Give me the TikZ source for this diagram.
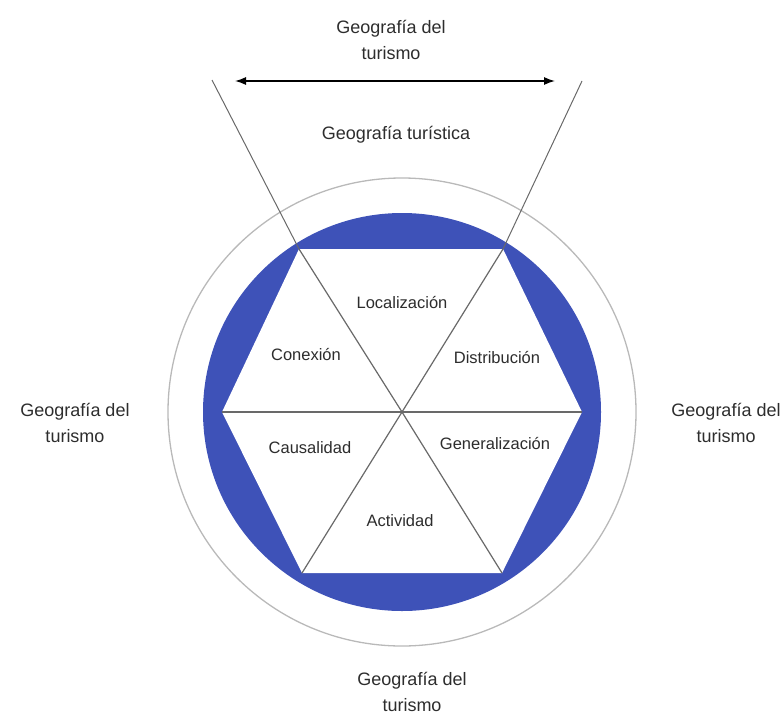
\documentclass[tikz,border=0pt]{standalone}
\usepackage{fontspec}
\setmainfont{Liberation Sans}
\usetikzlibrary{arrows.meta}
\definecolor{ringblue}{RGB}{62,82,184}
\definecolor{spokegray}{RGB}{105,105,105}
\definecolor{labelgray}{RGB}{45,45,45}
\tikzset{
  outlabel/.style={align=center, text=labelgray, font=\fontsize{18}{26}\selectfont},
  inlabel/.style={text=labelgray, font=\fontsize{16.5}{20}\selectfont},
  spoke/.style={draw=spokegray, line width=1.2pt}
}

\begin{document}
\begin{tikzpicture}[x=1pt,y=-1pt]
\useasboundingbox (0,0) rectangle (783,717);
\coordinate (c) at (402,412);
\coordinate (L) at (222,412);
\coordinate (TL) at (299,249);
\coordinate (TR) at (503,249);
\coordinate (R) at (582,412);
\coordinate (BR) at (502,573);
\coordinate (BL) at (302,573);
\coordinate (tlout) at (212,80);
\coordinate (trout) at (582,81);
\coordinate (al) at (235,81);
\coordinate (ar) at (555,81);

\draw[gray!55, line width=1.3pt] (c) circle[radius=234];
\fill[ringblue] (c) circle[radius=199];
\fill[white] (L) -- (TL) -- (TR) -- (R) -- (BR) -- (BL) -- cycle;
\foreach \v in {TL,TR,BR,BL}
  \draw[spoke] (c) -- (\v);
\draw[spoke] (L) -- (R);
\draw[spoke, line width=1pt] (TL) -- (tlout);
\draw[spoke, line width=1pt] (TR) -- (trout);
\draw[line width=1.3pt, {Latex[length=11pt,width=8pt]}-{Latex[length=11pt,width=8pt]}] (al) -- (ar);

\node[outlabel] (top) at (391,40) {Geografía del\\turismo};
\node[outlabel] (tur) at (396,135) {Geografía turística};
\node[outlabel] (left) at (75,423) {Geografía del\\turismo};
\node[outlabel] (right) at (726,423) {Geografía del\\turismo};
\node[outlabel] (bottom) at (412,692) {Geografía del\\turismo};

\node[inlabel] (loc) at (402,303) {Localización};
\node[inlabel] (con) at (306,355) {Conexión};
\node[inlabel] (dis) at (497,357) {Distribución};
\node[inlabel] (cau) at (310,448) {Causalidad};
\node[inlabel] (gen) at (495,443) {Generalización};
\node[inlabel] (act) at (400,521) {Actividad};
\end{tikzpicture}
\end{document}
